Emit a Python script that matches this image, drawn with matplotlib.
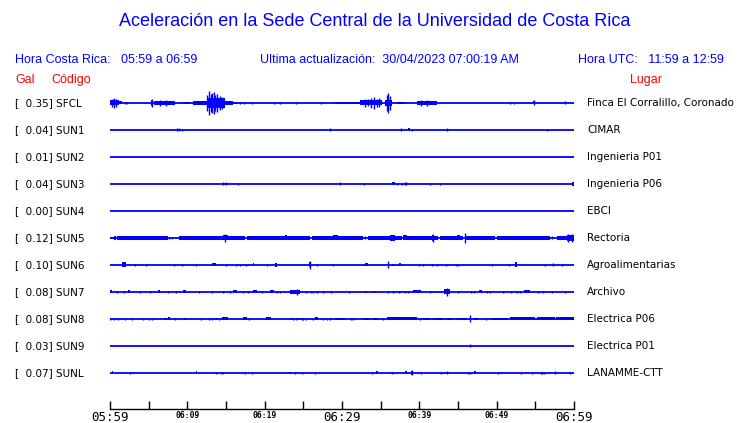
import matplotlib
matplotlib.use("Agg")
import matplotlib.pyplot as plt
from matplotlib.transforms import blended_transform_factory

# station table
gal = [0.35, 0.04, 0.01, 0.04, 0.00, 0.12, 0.10, 0.08, 0.08, 0.03, 0.07]
codes = ["SFCL", "SUN1", "SUN2", "SUN3", "SUN4", "SUN5", "SUN6", "SUN7", "SUN8", "SUN9", "SUNL"]
places = ["Finca El Corralillo, Coronado", "CIMAR", "Ingenieria P01", "Ingenieria P06",
          "EBCI", "Rectoria", "Agroalimentarias", "Archivo", "Electrica P06",
          "Electrica P01", "LANAMME-CTT"]

tick_minutes = list(range(0, 61, 5))
tick_labels = ["05:59", "", "06:09", "", "06:19", "", "06:29", "", "06:39", "", "06:49", "", "06:59"]

# events: (start minute, end minute, half amplitude, relative)
sfcl_events = [(0.0, 1.2, 2.5), (0.3, 0.3, 4), (0.5, 0.5, 5), (0.8, 0.8, 4), (1.2, 1.6, 1.5),
               (1.9, 1.9, 1), (2.2, 2.2, 1),
               (5.3, 5.6, 3), (5.4, 5.4, 4), (5.7, 8.4, 2), (6.5, 6.5, 3), (7.3, 7.3, 3),
               (9.4, 10.3, 1.2), (10.7, 12.5, 1.8),
               (12.5, 14.9, 5), (12.6, 12.6, 8), (12.8, 12.8, 12), (13.0, 13.0, 9),
               (13.2, 13.2, 10), (13.4, 13.4, 11), (13.6, 13.6, 8), (13.9, 13.9, 9),
               (14.2, 14.2, 7), (14.5, 14.5, 6), (14.9, 15.9, 2), (15.9, 16.4, 1),
               (16.8, 16.8, 1), (17.3, 17.3, 1), (18.3, 18.3, 1), (21.2, 21.2, 1),
               (22.0, 22.0, 1), (24.0, 24.0, 1), (27.3, 27.3, 1), (29.1, 29.6, 1),
               (29.6, 32.3, 1.2), (32.3, 35.2, 2.5), (33.0, 33.0, 4), (33.4, 33.4, 3.5),
               (33.7, 33.7, 5), (34.1, 34.1, 6), (34.5, 34.5, 4), (34.8, 34.8, 4.5),
               (35.6, 36.5, 3), (35.8, 35.8, 8), (35.95, 35.95, 10), (36.15, 36.15, 7),
               (37.1, 38.1, 1), (39.7, 42.3, 2.2), (40.2, 40.2, 3), (41.0, 41.0, 3.3),
               (51.7, 51.7, 1), (52.2, 52.2, 1), (54.7, 54.9, 1.5), (54.8, 54.8, 2.5),
               (58.8, 58.8, 1.5)]
sun1_events = [(8.6, 8.6, 1.5), (8.97, 8.97, 1.5), (9.3, 9.3, 1), (28.4, 28.4, 1.5),
               (37.6, 37.6, 1.5), (38.5, 38.75, 1.5), (39.1, 39.1, 1), (43.6, 43.6, 1.5),
               (56.5, 56.5, 1)]
sun2_events = []
sun3_events = [(14.65, 14.65, 1.5), (15.0, 15.0, 1.5), (16.5, 16.5, 1), (29.8, 29.8, 1.5),
               (32.9, 32.9, 1), (36.5, 36.8, 1.5), (37.1, 37.1, 1), (37.7, 37.7, 1),
               (38.1, 38.1, 1.5), (38.3, 38.3, 1.5), (41.4, 41.4, 1), (42.7, 42.7, 1),
               (59.8, 60.0, 2)]
sun4_events = []
sun5_events = [(0.0, 0.5, 1.2), (0.5, 0.8, 2), (0.9, 7.5, 1.7), (7.6, 7.6, 1), (8.0, 8.0, 1),
               (8.9, 14.6, 1.7), (14.9, 14.9, 4.3), (14.6, 15.2, 2.5), (15.1, 17.5, 1.7),
               (17.7, 22.6, 1.7), (22.6, 22.9, 2.5), (22.9, 25.9, 1.7), (26.1, 28.8, 1.7),
               (28.9, 29.5, 2.5), (29.5, 32.7, 1.7), (33.0, 33.0, 1.5), (33.4, 36.2, 1.7),
               (36.2, 36.9, 3), (36.9, 37.8, 1.7), (37.9, 38.4, 2.5), (38.4, 41.6, 1.7),
               (41.6, 41.9, 3), (41.75, 41.75, 4), (41.9, 42.4, 1.7), (42.7, 44.9, 1.7),
               (44.9, 45.2, 2.5), (45.2, 45.7, 1.7), (45.85, 45.85, 5), (45.9, 49.8, 1.7),
               (50.0, 56.9, 1.7), (57.2, 57.2, 1.5), (57.8, 59.1, 1.7), (59.1, 59.3, 3),
               (59.2, 59.2, 4), (59.4, 60.0, 3), (59.8, 59.8, 4)]
sun6_events = [(1.5, 2.07, 2.5), (3.23, 3.23, 1), (4.66, 4.66, 1.3), (8.28, 8.28, 1),
               (9.35, 9.35, 1), (11.08, 11.08, 1), (13.23, 13.67, 1.5), (15.0, 15.0, 1),
               (16.33, 16.33, 1), (16.81, 16.81, 1), (17.55, 17.55, 1), (18.45, 18.6, 1.5),
               (20.26, 20.26, 1), (21.34, 21.6, 2), (25.77, 25.95, 2.5), (25.86, 25.86, 4),
               (26.77, 26.77, 1), (28.88, 28.88, 1), (32.98, 33.32, 1.5), (35.99, 35.99, 3.5),
               (36.43, 36.76, 1), (37.37, 37.63, 1.5), (40.0, 40.0, 1), (40.51, 40.51, 1),
               (41.6, 41.6, 1), (42.33, 42.33, 1), (43.45, 43.45, 1), (44.74, 44.74, 1),
               (45.04, 45.04, 1), (49.44, 49.44, 1), (51.6, 51.6, 1), (52.37, 52.63, 2.5),
               (56.25, 56.25, 1), (57.33, 57.46, 1.5), (58.41, 58.41, 1)]
sun7_events = [(0.0, 0.3, 1.5), (0.94, 0.94, 1), (1.85, 1.85, 1), (2.37, 2.59, 1.5),
               (3.88, 3.88, 1), (5.17, 5.17, 1.3), (6.17, 6.47, 1.5), (7.54, 7.54, 1),
               (8.53, 8.53, 1.3), (9.4, 9.79, 1.5), (11.47, 11.47, 1.3), (13.23, 13.23, 1),
               (14.57, 14.57, 1), (15.52, 15.52, 1), (15.94, 16.46, 1.5), (17.24, 17.24, 1),
               (17.81, 17.81, 1), (18.45, 18.97, 1.5), (19.62, 19.62, 1), (20.69, 21.2, 1.5),
               (21.56, 21.56, 1), (21.98, 21.98, 1), (23.28, 24.57, 1.8), (24.14, 24.14, 3.3),
               (25.31, 25.31, 1), (25.95, 25.95, 1), (26.29, 26.29, 1), (26.73, 26.73, 1.3),
               (27.58, 27.58, 1), (28.58, 28.58, 1), (30.9, 30.9, 1.3), (32.9, 33.2, 1.3),
               (33.97, 34.44, 1.3), (35.99, 35.99, 1), (36.63, 36.63, 1), (37.37, 37.37, 1),
               (38.15, 38.15, 1), (38.57, 38.57, 1), (39.14, 40.18, 1.5), (41.42, 41.42, 1.3),
               (43.23, 43.97, 2.5), (43.54, 43.54, 4), (44.96, 44.96, 1.3), (46.68, 46.68, 1),
               (47.11, 47.11, 1), (47.72, 48.07, 1.5), (48.79, 48.79, 1), (49.18, 49.18, 1),
               (50.78, 50.78, 1), (51.82, 51.82, 1), (52.59, 52.59, 1), (53.02, 53.02, 1),
               (53.57, 54.27, 1.5), (55.31, 55.31, 1.3), (55.95, 55.95, 1), (57.2, 57.2, 1),
               (58.84, 58.84, 1.3)]
sun8_events = [(0.0, 0.0, 1), (0.52, 0.52, 1), (1.07, 1.07, 1), (1.98, 1.98, 1),
               (2.81, 2.81, 1), (4.31, 4.31, 1), (5.0, 5.0, 1.3), (5.47, 5.47, 1),
               (7.02, 7.33, 1.3), (7.54, 7.76, 1.5), (8.37, 8.37, 1), (9.61, 9.79, 1.3),
               (11.81, 11.81, 1), (12.84, 12.84, 1), (13.23, 13.36, 1.3), (13.62, 13.8, 1.3),
               (14.1, 14.1, 1), (14.52, 15.3, 1.5), (17.24, 17.68, 1.5), (17.97, 17.97, 1),
               (20.17, 20.78, 1.5), (23.28, 23.5, 1.3), (23.7, 23.7, 1), (24.01, 24.01, 1.3),
               (24.35, 24.57, 1.3), (24.79, 24.79, 1), (25.0, 25.0, 1.3), (25.31, 25.31, 1),
               (26.29, 26.29, 1), (26.55, 26.94, 1.5), (27.5, 27.5, 1), (28.02, 28.02, 1),
               (28.45, 28.45, 1), (29.1, 30.4, 1), (29.39, 29.65, 1.3), (31.13, 31.13, 1),
               (31.46, 31.46, 1), (32.76, 33.53, 1.3), (34.05, 34.7, 1.3), (35.34, 35.34, 1),
               (35.78, 39.66, 1.5), (40.09, 40.09, 1), (40.51, 41.38, 1.3), (41.73, 43.1, 1.3),
               (43.54, 44.39, 1.3), (44.83, 46.13, 1.3), (46.56, 46.56, 3.5), (47.11, 47.63, 1.3),
               (48.62, 48.62, 1), (49.44, 51.5, 1.3), (51.7, 55.0, 1.5), (55.2, 57.5, 1.5),
               (57.7, 60.0, 1.5)]
sun9_events = [(46.56, 46.56, 1.5)]
sunl_events = [(0.2, 0.4, 1.5), (2.59, 2.59, 1.3), (11.12, 11.29, 1.5), (13.71, 13.71, 1),
               (14.35, 14.35, 1.3), (14.57, 14.57, 1.3), (17.46, 17.46, 1.3), (18.32, 18.32, 1.3),
               (23.19, 23.36, 1), (23.92, 23.92, 1.3), (24.87, 24.87, 1.3), (26.51, 26.51, 1),
               (33.92, 33.92, 1.3), (34.4, 34.62, 1.5), (36.43, 36.43, 1), (38.15, 38.37, 1.5),
               (38.92, 39.1, 1.8), (39.0, 39.0, 2.5), (40.18, 40.18, 1.3), (42.76, 42.76, 1.3),
               (43.54, 43.62, 1.5), (46.25, 46.25, 1.3), (46.56, 46.56, 1.3), (47.11, 47.29, 1.5),
               (50.21, 50.21, 1.3), (53.15, 53.15, 1.3), (54.53, 54.53, 1.3), (55.69, 55.69, 1.3),
               (55.91, 55.91, 1.3), (56.12, 56.12, 1.3), (57.55, 57.55, 1.5), (59.48, 59.48, 1)]

traces = [sfcl_events, sun1_events, sun2_events, sun3_events, sun4_events, sun5_events,
          sun6_events, sun7_events, sun8_events, sun9_events, sunl_events]

BLUE = "#0000ff"
RED = "#ff0000"
ROW = 27.0  # amplitude units per trace spacing

fig = plt.figure(figsize=(7.4, 4.23), dpi=100)
W, H = 740, 423
ax = fig.add_axes([110 / W, (H - 409) / H, 464 / W, (409 - 85) / H])
ax.set_xlim(0, 60)
ax.set_ylim(len(codes) - 1 + 306 / ROW - 10, -18 / ROW)

for i, ev in enumerate(traces):
    ax.hlines(i, 0, 60, color=BLUE, lw=1.3)
    for t0, t1, a in ev:
        a = a / ROW
        if t1 - t0 < 0.15:
            ax.vlines(t0, i - a, i + a, color=BLUE, lw=1.0)
        else:
            ax.fill_between([t0, t1], i - a, i + a, color=BLUE, lw=0)

for s in ["top", "left", "right"]:
    ax.spines[s].set_visible(False)
ax.spines["bottom"].set_linewidth(1.0)
ax.set_yticks([])
ax.set_xticks(tick_minutes)
ax.set_xticklabels(tick_labels, family="DejaVu Sans Mono")
ax.tick_params(axis="x", direction="in", length=6, width=1.0, pad=1.5)
for lab, txt in zip(ax.get_xticklabels(), tick_labels):
    if txt in ("05:59", "06:29", "06:59"):
        lab.set_fontsize(9)
    else:
        lab.set_fontsize(5.8)
        lab.set_fontweight("bold")

tr = blended_transform_factory(fig.transFigure, ax.transData)
for i in range(len(codes)):
    ax.text(15 / W, i, "[  %.2f] %s" % (gal[i], codes[i]), transform=tr,
            ha="left", va="center", fontsize=7.5, family="DejaVu Sans", clip_on=False)
    ax.text(587 / W, i, places[i], transform=tr, ha="left", va="center",
            fontsize=7.5, family="DejaVu Sans", clip_on=False)

sans = "Liberation Sans"
fig.text(375 / W, 1 - 22 / H, "Aceleración en la Sede Central de la Universidad de Costa Rica",
         ha="center", va="center", color=BLUE, fontsize=13, family=sans)
fig.text(15 / W, 1 - 60 / H, "Hora Costa Rica:   05:59 a 06:59", ha="left", va="center",
         color=BLUE, fontsize=9, family=sans)
fig.text(260 / W, 1 - 60 / H, "Ultima actualización:  30/04/2023 07:00:19 AM", ha="left",
         va="center", color=BLUE, fontsize=9, family=sans)
fig.text(724 / W, 1 - 60 / H, "Hora UTC:   11:59 a 12:59", ha="right", va="center",
         color=BLUE, fontsize=9, family=sans)
fig.text(15 / W, 1 - 80 / H, "Gal", ha="left", va="center", color=RED, fontsize=9, family=sans)
fig.text(51 / W, 1 - 80 / H, "Código", ha="left", va="center", color=RED, fontsize=9, family=sans)
fig.text(646 / W, 1 - 80 / H, "Lugar", ha="center", va="center", color=RED, fontsize=9, family=sans)

fig.savefig("out.png", dpi=100)
